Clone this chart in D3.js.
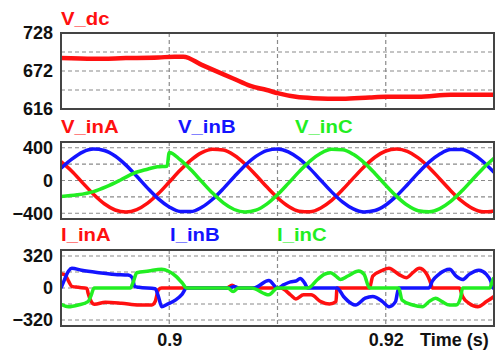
<!DOCTYPE html>
<html>
<head>
<meta charset="utf-8">
<script src="https://cdn.jsdelivr.net/npm/d3@7"></script>
<style>
  body { margin: 0; background: #fff; }
  svg { display: block; font-family: "Liberation Sans", Arial, sans-serif; }
</style>
</head>
<body>
<svg id="chart" width="498" height="355"></svg>
<script>
// x axis (seconds)
const xDomain = [0.89, 0.93];
const xGrid = [0.9, 0.91, 0.92];
const xTickLabels = [0.9, 0.92];

// DC link voltage
const timeDc = [0.8900, 0.8930, 0.8960, 0.8990, 0.9005, 0.9013, 0.9030, 0.9059, 0.9075, 0.9090,
  0.9101, 0.9117, 0.9133, 0.9160, 0.9185, 0.9200, 0.9230, 0.9260, 0.9300];
const vDc = [691, 690, 691, 692, 693, 693, 681, 661, 650, 644,
  639, 634, 632, 631, 633, 634, 634, 637, 637];
const yTicksDc = [616, 672, 728];
const yGridDc = [644, 672, 700];

// input phase voltages, sampled every 1 ms
const timeV = [0.890, 0.891, 0.892, 0.893, 0.894, 0.895, 0.896, 0.897, 0.898, 0.899,
  0.900, 0.901, 0.902, 0.903, 0.904, 0.905, 0.906, 0.907, 0.908, 0.909,
  0.910, 0.911, 0.912, 0.913, 0.914, 0.915, 0.916, 0.917, 0.918, 0.919,
  0.920, 0.921, 0.922, 0.923, 0.924, 0.925, 0.926, 0.927, 0.928, 0.929, 0.930];
const vInA = [230, 114, -29, -168, -284, -360, -385, -356, -277, -160,
  -19, 124, 249, 340, 383, 372, 309, 202, 67, -77,
  -210, -314, -374, -381, -335, -242, -114, 29, 168, 284,
  360, 385, 356, 277, 160, 19, -124, -249, -340, -383, -372];
const vInB = [150, 261, 347, 384, 367, 299, 188, 51, -93, -224,
  -323, -378, -379, -327, -229, -99, 45, 183, 294, 365,
  384, 350, 266, 145, 3, -139, -261, -347, -384, -367,
  -299, -188, -51, 93, 224, 323, 378, 379, 327, 229, 99];
// phase C is distorted before 0.9 s, so it has its own time points
const timeVC = [0.8900, 0.8915, 0.8930, 0.8942, 0.8955, 0.8967, 0.8979, 0.8989, 0.8998,
  0.900, 0.901, 0.902, 0.903, 0.904, 0.905, 0.906, 0.907, 0.908, 0.909,
  0.910, 0.911, 0.912, 0.913, 0.914, 0.915, 0.916, 0.917, 0.918, 0.919,
  0.920, 0.921, 0.922, 0.923, 0.924, 0.925, 0.926, 0.927, 0.928, 0.929, 0.930];
const vInC = [-196, -175, -135, -75, 6, 87, 135, 167, 175,
  343, 254, 130, -13, -154, -273, -354, -385, -362, -288,
  -174, -35, 108, 237, 332, 380, 376, 319, 218, 86,
  -58, -194, -303, -369, -383, -344, -256, -132, 10, 151, 271];
const yTicksV = [400, 0, -400];
const yGridV = [-400, -200, 0, 200, 400];

// input phase currents
const timeIA = [0.8900, 0.8904, 0.8907, 0.8910, 0.8916, 0.8924, 0.8925, 0.8928, 0.8931, 0.8941,
  0.8956, 0.8972, 0.8984, 0.8987, 0.8990, 0.8993, 0.9053, 0.9058, 0.9063, 0.9103,
  0.9112, 0.9117, 0.9124, 0.9131, 0.9140, 0.9148, 0.9154, 0.9155, 0.9185, 0.9188,
  0.9197, 0.9203, 0.9212, 0.9219, 0.9225, 0.9231, 0.9237, 0.9242, 0.9243, 0.9268,
  0.9271, 0.9277, 0.9285, 0.9293, 0.9300];
const iInA = [143, 129, 68, 17, 7, -4, -51, -136, -163, -143,
  -153, -170, -170, -136, -17, 0, 0, 27, 0, 0,
  -68, -109, -68, -68, -136, -160, -136, 0, 0, 119,
  177, 197, 136, 102, 153, 197, 153, 34, 0, 0,
  -85, -153, -187, -136, -85];
const timeIB = [0.8900, 0.8902, 0.8907, 0.8910, 0.8919, 0.8935, 0.8950, 0.8962, 0.8966, 0.8968,
  0.8972, 0.8987, 0.8990, 0.8993, 0.8998, 0.9006, 0.9012, 0.9016, 0.9055, 0.9060,
  0.9065, 0.9078, 0.9092, 0.9100, 0.9106, 0.9112, 0.9117, 0.9121, 0.9125, 0.9128,
  0.9155, 0.9161, 0.9168, 0.9172, 0.9181, 0.9188, 0.9197, 0.9203, 0.9209, 0.9212,
  0.9240, 0.9243, 0.9249, 0.9259, 0.9265, 0.9271, 0.9277, 0.9286, 0.9293, 0.9297,
  0.9299, 0.9300];
const iInB = [0, 51, 170, 197, 177, 153, 136, 129, 102, 17,
  7, -7, -85, -187, -163, -119, -61, 0, 0, 14,
  0, 0, 75, 0, 34, 61, 70, 95, 51, 0,
  0, -85, -153, -170, -102, -85, -136, -187, -136, 0,
  0, 68, 136, 187, 119, 85, 136, 177, 136, 68,
  0, 0];
const timeIC = [0.8900, 0.8907, 0.8916, 0.8925, 0.8928, 0.8930, 0.8931, 0.8964, 0.8967, 0.8970,
  0.8981, 0.8993, 0.8999, 0.9006, 0.9012, 0.9016, 0.9054, 0.9059, 0.9064, 0.9076,
  0.9092, 0.9100, 0.9128, 0.9137, 0.9143, 0.9149, 0.9154, 0.9158, 0.9165, 0.9175,
  0.9180, 0.9185, 0.9212, 0.9215, 0.9225, 0.9234, 0.9240, 0.9246, 0.9252, 0.9259,
  0.9265, 0.9269, 0.9271, 0.9296, 0.9299, 0.9300];
const iInC = [-163, -187, -170, -136, -68, -7, 0, 0, 68, 153,
  170, 187, 170, 119, 51, 0, 0, -34, 0, 0,
  -68, 0, 0, 85, 136, 153, 119, 85, 120, 170,
  136, 0, 0, -119, -170, -187, -136, -102, -136, -170,
  -170, -102, 0, 0, 85, 102];
const yTicksI = [320, 0, -320];
const yGridI = [-320, -160, 0, 160, 320];

const RED = "#ff1010", BLUE = "#1414ff", GREEN = "#22ee22";
const left = 61, right = 494;

const svg = d3.select("#chart");
const x = d3.scaleLinear().domain(xDomain).range([left, right]);

const panels = [
  { top: 33, bottom: 109, domain: [616, 728], ticks: yTicksDc, grid: yGridDc, labelY: 25,
    labels: [["V_dc", 61, RED]],
    series: [[timeDc, vDc, RED, 4.5]] },
  { top: 142, bottom: 219, domain: [-470, 470], ticks: yTicksV, grid: yGridV, labelY: 133,
    labels: [["V_inA", 61, RED], ["V_inB", 178, BLUE], ["V_inC", 295, GREEN]],
    series: [[timeV, vInA, RED, 3.5], [timeV, vInB, BLUE, 3.5], [timeVC, vInC, GREEN, 3.5]] },
  { top: 250, bottom: 326, domain: [-380, 380], ticks: yTicksI, grid: yGridI, labelY: 241,
    labels: [["I_inA", 61, RED], ["I_inB", 170, BLUE], ["I_inC", 277, GREEN]],
    series: [[timeIA, iInA, RED, 3.5], [timeIB, iInB, BLUE, 3.5], [timeIC, iInC, GREEN, 3.5]] },
];

panels.forEach((p, i) => {
  const y = d3.scaleLinear().domain(p.domain).range([p.bottom, p.top]);
  const g = svg.append("g");

  // dashed grid
  g.append("g")
    .selectAll("line.h")
    .data(p.grid)
    .join("line")
    .attr("x1", left).attr("x2", right)
    .attr("y1", d => y(d)).attr("y2", d => y(d))
    .attr("stroke", "#8a8a8a").attr("stroke-width", 1.2)
    .attr("stroke-dasharray", "4,3");
  g.append("g")
    .selectAll("line.v")
    .data(xGrid)
    .join("line")
    .attr("x1", d => x(d)).attr("x2", d => x(d))
    .attr("y1", p.top).attr("y2", p.bottom)
    .attr("stroke", "#8a8a8a").attr("stroke-width", 1.2)
    .attr("stroke-dasharray", "4,3");

  // traces
  svg.append("clipPath").attr("id", "clip" + i)
    .append("rect")
    .attr("x", left).attr("y", p.top)
    .attr("width", right - left).attr("height", p.bottom - p.top);

  const line = d3.line()
    .x(d => x(d[0]))
    .y(d => y(d[1]))
    .curve(d3.curveMonotoneX);

  p.series.forEach(([t, v, color, w]) => {
    g.append("path")
      .datum(d3.zip(t, v))
      .attr("clip-path", `url(#clip${i})`)
      .attr("fill", "none")
      .attr("stroke", color)
      .attr("stroke-width", w)
      .attr("stroke-linejoin", "round")
      .attr("d", line);
  });

  // frame
  g.append("rect")
    .attr("x", left).attr("y", p.top)
    .attr("width", right - left).attr("height", p.bottom - p.top)
    .attr("fill", "none").attr("stroke", "#444").attr("stroke-width", 2);

  // y tick labels
  const ax = g.append("g")
    .attr("transform", `translate(${left},0)`)
    .call(d3.axisLeft(y).tickValues(p.ticks).tickSize(0).tickPadding(8).tickFormat(d3.format("d")));
  ax.select(".domain").remove();
  ax.selectAll("text")
    .attr("fill", "#111")
    .style("font-size", "18px")
    .style("font-weight", "bold")
    .style("font-family", '"Liberation Sans", Arial, sans-serif');

  // trace names
  g.selectAll("text.name")
    .data(p.labels)
    .join("text")
    .attr("class", "name")
    .attr("transform", d => `translate(${d[1]},${p.labelY}) scale(1.13,1)`)
    .attr("fill", d => d[2])
    .style("font-size", "18px")
    .style("font-weight", "bold")
    .text(d => d[0]);

  // time labels under the last panel
  if (i === panels.length - 1) {
    const xa = g.append("g")
      .attr("transform", `translate(0,${p.bottom})`)
      .call(d3.axisBottom(x).tickValues(xTickLabels).tickSize(0).tickPadding(7).tickFormat(d3.format("")));
    xa.select(".domain").remove();
    xa.selectAll("text")
      .attr("fill", "#111")
      .style("font-size", "18px")
      .style("font-weight", "bold")
      .style("font-family", '"Liberation Sans", Arial, sans-serif');

    g.append("text")
      .attr("x", 420).attr("y", 346)
      .attr("fill", "#111")
      .style("font-size", "18px")
      .style("font-weight", "bold")
      .text("Time (s)");
  }
});
</script>
</body>
</html>
